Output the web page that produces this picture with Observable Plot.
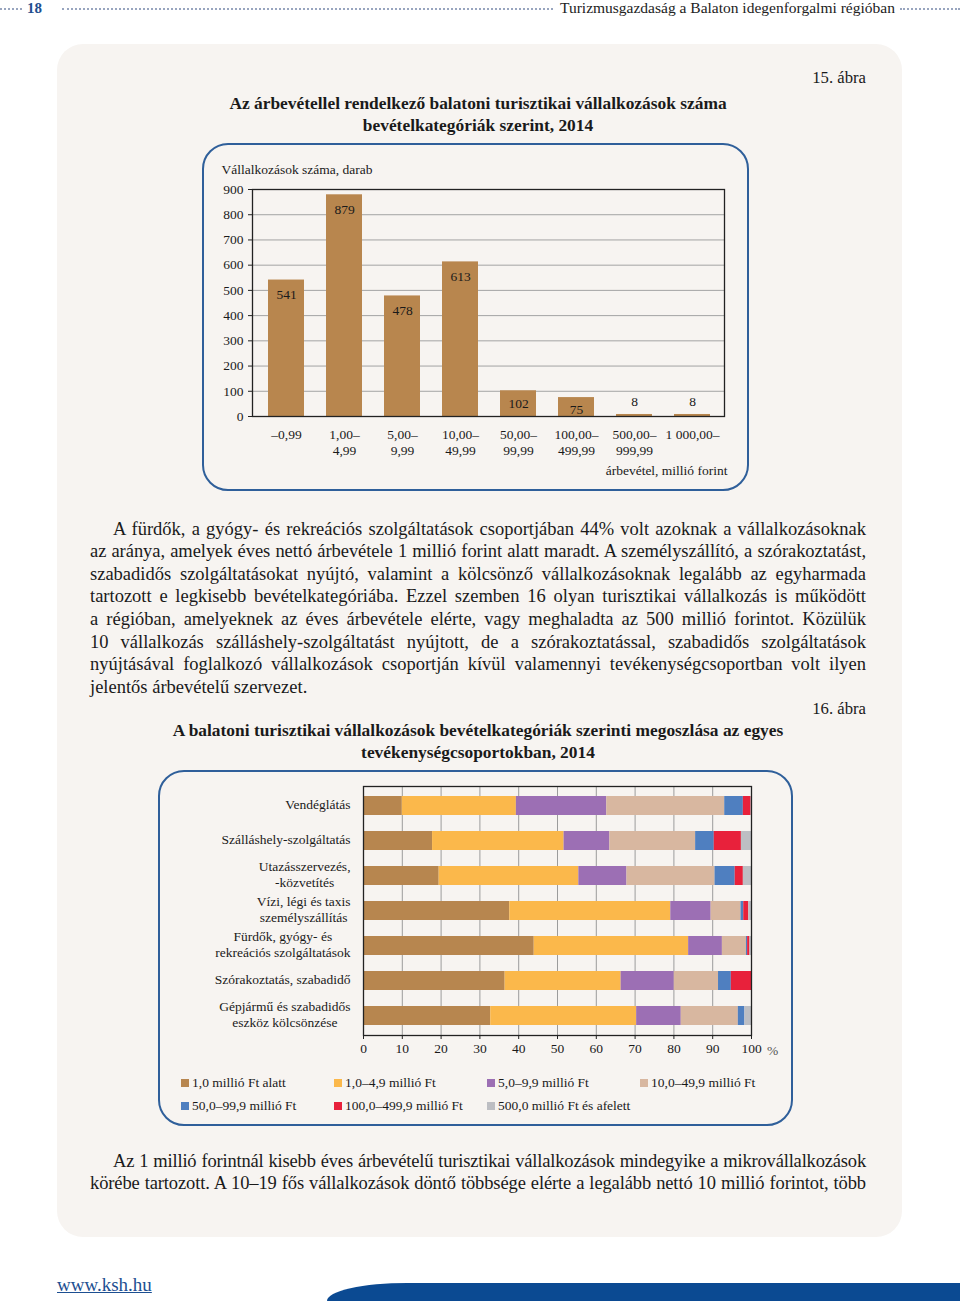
<!DOCTYPE html>
<html lang="hu">
<head>
<meta charset="utf-8">
<script src="https://cdn.jsdelivr.net/npm/d3@7"></script>
<script src="https://cdn.jsdelivr.net/npm/@observablehq/plot@0.6"></script>
<style>
  body{margin:0;width:960px;height:1308px;position:relative;background:#fff;font-family:"Liberation Serif",serif;color:#1a1a1a;overflow:hidden}
  .abs{position:absolute}
  .dots{position:absolute;height:0;border-top:2px dotted #98a5bf}
  #panel{left:57px;top:44px;width:845px;height:1193px;background:#f7f4f1;border-radius:26px}
  .title{font-weight:bold;font-size:17.4px;text-align:center;line-height:22px}
  .fig{font-size:16.7px;line-height:20px;text-align:right}
  .box{border:2px solid #2f5f9a;border-radius:26px;box-sizing:border-box}
  .ln{white-space:nowrap;text-align:justify;text-align-last:justify;font-size:18.5px;line-height:22.6px;height:22.6px}
  .ln.last{text-align-last:left}
  .leg{position:absolute;font-size:13.5px;line-height:16px;white-space:nowrap}
  .leg i{display:inline-block;width:8px;height:8px;margin-right:3px;vertical-align:0px}
</style>
</head>
<body>
<div class="dots" style="left:0;top:8px;width:22px"></div>
<div class="abs" style="left:27px;top:-1px;font-size:15px;font-weight:bold;color:#1f4f8f;line-height:18px">18</div>
<div class="dots" style="left:62px;top:8px;width:491px"></div>
<div class="abs" style="left:560px;top:-1px;font-size:15.5px;line-height:18px;color:#222;white-space:nowrap">Turizmusgazdaság a Balaton idegenforgalmi régióban</div>
<div class="dots" style="left:900px;top:8px;width:60px"></div>

<div id="panel" class="abs"></div>

<div class="abs fig" style="left:766px;top:68px;width:100px">15. ábra</div>
<div class="abs title" style="left:128px;top:92px;width:700px">Az árbevétellel rendelkező balatoni turisztikai vállalkozások száma<br>bevételkategóriák szerint, 2014</div>
<div class="abs box" style="left:202px;top:143px;width:547px;height:348px"></div>
<div id="chart1" class="abs" style="left:202px;top:150px"></div>

<div id="para1" class="abs" style="left:90px;top:517.7px;width:776px"></div>

<div class="abs fig" style="left:766px;top:699px;width:100px">16. ábra</div>
<div class="abs title" style="left:78px;top:719px;width:800px">A balatoni turisztikai vállalkozások bevételkategóriák szerinti megoszlása az egyes<br>tevékenységcsoportokban, 2014</div>
<div class="abs box" style="left:158px;top:770px;width:635px;height:356px"></div>
<div id="chart2" class="abs" style="left:158px;top:776px"></div>
<div id="legend"></div>

<div id="para2" class="abs" style="left:90px;top:1149.7px;width:776px"></div>

<div class="abs" style="left:57px;top:1273px;font-size:19px;line-height:24px;color:#1d4f91;text-decoration:underline">www.ksh.hu</div>
<div class="abs" style="left:327px;top:1283px;width:633px;height:18px;background:#0b4a92;border-top-left-radius:80px 18px"></div>

<script>
// ---------- DATA ----------
// Figure 15
const revenueCategories = ["–0,99", "1,00–\n4,99", "5,00–\n9,99", "10,00–\n49,99", "50,00–\n99,99", "100,00–\n499,99", "500,00–\n999,99", "1 000,00–"];
const enterpriseCounts = [541, 879, 478, 613, 102, 75, 8, 8];
const yTicks1 = [0, 100, 200, 300, 400, 500, 600, 700, 800, 900];

// Figure 16
const activities = [
  "Vendéglátás",
  "Szálláshely-szolgáltatás",
  "Utazásszervezés,\n-közvetítés",
  "Vízi, légi és taxis\nszemélyszállítás",
  "Fürdők, gyógy- és\nrekreációs szolgáltatások",
  "Szórakoztatás, szabadidő",
  "Gépjármű és szabadidős\neszköz kölcsönzése"
];
const bandNames = ["1,0 millió Ft alatt", "1,0–4,9 millió Ft", "5,0–9,9 millió Ft", "10,0–49,9 millió Ft", "50,0–99,9 millió Ft", "100,0–499,9 millió Ft", "500,0 millió Ft és afelett"];
const bandColors = ["#b7864f", "#fbb84b", "#9c6fb4", "#d8b7a0", "#4f7fc0", "#e8213b", "#bdbec3"];
const shareUnder1 = [10.0, 17.8, 19.5, 37.7, 44.0, 36.5, 32.8];
const share1to5 = [29.4, 33.9, 36.0, 41.5, 39.8, 29.9, 37.6];
const share5to10 = [23.3, 11.8, 12.4, 10.4, 8.7, 13.7, 11.5];
const share10to50 = [30.4, 22.1, 22.7, 7.7, 6.2, 11.4, 14.7];
const share50to100 = [4.8, 4.8, 5.2, 0.7, 0.3, 3.3, 1.7];
const share100to500 = [2.0, 7.0, 2.1, 1.3, 0.6, 5.2, 0.0];
const share500plus = [0.1, 2.6, 2.1, 0.7, 0.4, 0.0, 1.7];
const xTicks2 = [0, 10, 20, 30, 40, 50, 60, 70, 80, 90, 100];

// Texts
const para1Lines = [
  "A fürdők, a gyógy- és rekreációs szolgáltatások csoportjában 44% volt azoknak a vállalkozásoknak",
  "az aránya, amelyek éves nettó árbevétele 1 millió forint alatt maradt. A személyszállító, a szórakoztatást,",
  "szabadidős szolgáltatásokat nyújtó, valamint a kölcsönző vállalkozásoknak legalább az egyharmada",
  "tartozott e legkisebb bevételkategóriába. Ezzel szemben 16 olyan turisztikai vállalkozás is működött",
  "a régióban, amelyeknek az éves árbevétele elérte, vagy meghaladta az 500 millió forintot. Közülük",
  "10 vállalkozás szálláshely-szolgáltatást nyújtott, de a szórakoztatással, szabadidős szolgáltatások",
  "nyújtásával foglalkozó vállalkozások csoportján kívül valamennyi tevékenységcsoportban volt ilyen",
  "jelentős árbevételű szervezet."
];
const para2Lines = [
  "Az 1 millió forintnál kisebb éves árbevételű turisztikai vállalkozások mindegyike a mikrovállalkozások",
  "körébe tartozott. A 10–19 fős vállalkozások döntő többsége elérte a legalább nettó 10 millió forintot, több"
];

// ---------- TEXT ----------
const ctx = document.createElement("canvas").getContext("2d");
function fillPara(id, lines, lastIsFinal) {
  const el = document.getElementById(id);
  lines.forEach((t, i) => {
    const d = document.createElement("div");
    d.className = "ln" + (lastIsFinal && i === lines.length - 1 ? " last" : "");
    const indent = i === 0 ? 23 : 0;
    if (indent) d.style.paddingLeft = indent + "px";
    d.textContent = t;
    ctx.font = "18.5px 'Liberation Serif'";
    const w = ctx.measureText(t).width;
    const avail = 776 - indent;
    if (w > avail - 6) d.style.letterSpacing = ((avail - 6 - w) / t.length).toFixed(3) + "px";
    el.appendChild(d);
  });
}
fillPara("para1", para1Lines, true);
fillPara("para2", para2Lines, false);

// ---------- FIGURE 15 ----------
const data1 = revenueCategories.map((c, i) => ({cat: c, value: enterpriseCounts[i]}));
const chart1 = Plot.plot({
  width: 547, height: 335,
  marginLeft: 50, marginRight: 25, marginTop: 39, marginBottom: 69,
  style: {fontFamily: "'Liberation Serif', serif", fontSize: "13.5px", background: "transparent", color: "#1a1a1a", overflow: "visible"},
  x: {domain: revenueCategories, paddingInner: 0.376, paddingOuter: 0.205, align: 0.55, label: null},
  y: {domain: [0, 900], label: null},
  marks: [
    Plot.gridY(yTicks1, {stroke: "#a3a3a3", strokeOpacity: 1, strokeWidth: 1}),
    Plot.barY(data1, {x: "cat", y: "value", fill: "#b8864e"}),
    Plot.frame({stroke: "#222", strokeWidth: 1.3}),
    Plot.axisY(yTicks1, {tickSize: 4, tickPadding: 5, fontSize: 13.5, stroke: "#222"}),
    Plot.axisX({tickSize: 0, tickPadding: 11, fontSize: 13.5, lineHeight: 1.2}),
    Plot.text(data1.filter(d => d.value >= 200), {x: "cat", y: "value", text: d => String(d.value), dy: 15, fontSize: 13.5}),
    Plot.text(data1.filter(d => d.value >= 20 && d.value < 200), {x: "cat", y: "value", text: d => String(d.value), dy: 12.5, fontSize: 13.5}),
    Plot.text(data1.filter(d => d.value < 20), {x: "cat", y: "value", text: d => String(d.value), dy: -13, fontSize: 13.5}),
    Plot.text(["Vállalkozások száma, darab"], {frameAnchor: "top-left", lineAnchor: "middle", textAnchor: "start", dx: -31, dy: -20, fontSize: 13.5}),
    Plot.text(["árbevétel, millió forint"], {frameAnchor: "bottom-right", lineAnchor: "middle", textAnchor: "end", dx: 3, dy: 54, fontSize: 13.5})
  ]
});
document.getElementById("chart1").appendChild(chart1);

// ---------- FIGURE 16 ----------
const seriesList = [shareUnder1, share1to5, share5to10, share10to50, share50to100, share100to500, share500plus];
const data2 = [];
seriesList.forEach((arr, b) => arr.forEach((v, i) => data2.push({activity: activities[i], band: bandNames[b], value: v})));

ctx.font = "13.5px 'Liberation Serif'";
const yLabelMarks = activities.map(a => {
  const w = Math.max(...a.split("\n").map(l => ctx.measureText(l).width));
  return Plot.text([a], {y: d => d, frameAnchor: "left", textAnchor: "middle", dx: -(13 + w / 2), dy: -2, lineHeight: 1.2, fontSize: 13.5});
});

const chart2 = Plot.plot({
  width: 635, height: 289,
  marginLeft: 205, marginRight: 42, marginTop: 10, marginBottom: 30,
  style: {fontFamily: "'Liberation Serif', serif", fontSize: "13.5px", background: "transparent", color: "#1a1a1a", overflow: "visible"},
  x: {domain: [0, 100], label: null},
  y: {domain: activities, paddingInner: 0.46, paddingOuter: 0.255, label: null, axis: null},
  color: {domain: bandNames, range: bandColors},
  marks: [
    Plot.gridX(xTicks2, {stroke: "#9c9c9c", strokeOpacity: 1, strokeWidth: 1}),
    Plot.barX(data2, {x: "value", y: "activity", fill: "band"}),
    Plot.frame({stroke: "#222", strokeWidth: 1.3}),
    Plot.axisX(xTicks2, {tickSize: 4, tickPadding: 4, fontSize: 13.5, stroke: "#222"}),
    Plot.text(["%"], {frameAnchor: "bottom-right", lineAnchor: "middle", textAnchor: "middle", dx: 21, dy: 15, fontSize: 13.5, fill: "#555"}),
    ...yLabelMarks
  ]
});
document.getElementById("chart2").appendChild(chart2);

// Legend (HTML, below the SVG)
const legCols = [181, 334, 487, 640];
const legRows = [1075, 1098];
const legend = document.getElementById("legend");
bandNames.forEach((name, i) => {
  const row = i < 4 ? 0 : 1;
  const col = i < 4 ? i : i - 4;
  const d = document.createElement("div");
  d.className = "leg";
  d.style.left = legCols[col] + "px";
  d.style.top = legRows[row] + "px";
  d.innerHTML = `<i style="background:${bandColors[i]}"></i>${name}`;
  legend.appendChild(d);
});
</script>
</body>
</html>
